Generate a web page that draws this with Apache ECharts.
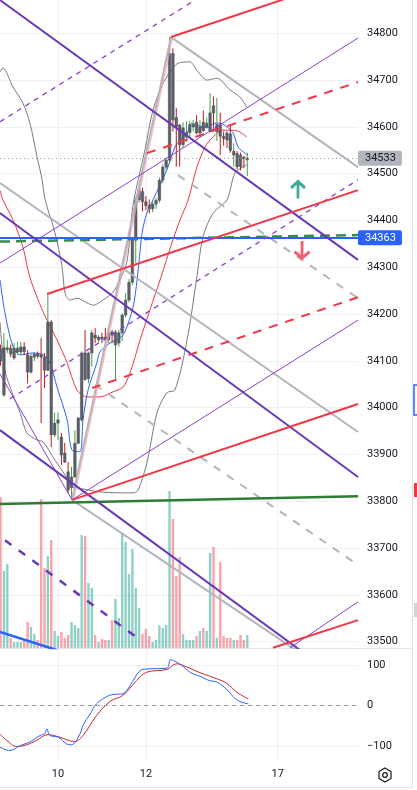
<!DOCTYPE html>
<html><head><meta charset="utf-8">
<script src="https://cdn.jsdelivr.net/npm/echarts@6/dist/echarts.min.js"></script>
<style>html,body{margin:0;padding:0;background:#fff;}#c{width:417px;height:790px;}</style>
</head><body><div id="c"></div>
<script>
// ---------- DATA ----------
// 30-minute bars, index 0 = first visible bar
const dayLabels = ['10', '12', '17'];
const dayLabelBars = [17, 43, 82];
const priceTicks = [33500,33600,33700,33800,33900,34000,34100,34200,34300,34400,34500,34600,34700,34800];
const oscTicks = [-100, 0, 100];
// [open, high, low, close]
const ohlc = [
 [34125,34135,34090,34100],[34027,34160,34023,34128],[34124,34145,34117,34128],[34127,34135,34108,34115],
 [34106,34138,34102,34127],[34119,34140,34113,34127],[34119,34140,34113,34130],[34130,34140,34113,34120],
 [34113,34123,34052,34076],[34076,34115,34073,34110],[34108,34118,34100,34115],[34115,34120,34105,34110],
 [34113,34149,33967,34108],[34108,34117,34042,34080],[34080,34245,34078,34183],[34183,34187,33916,33942],
 [33942,33989,33937,33967],[33967,33989,33931,33974],[33937,33946,33878,33899],[33903,33925,33882,33884],
 [33863,33884,33818,33824],[33829,33874,33803,33852],[33852,33952,33850,33924],[33924,33980,33922,33978],
 [33974,34120,33970,34117],[34117,34166,34058,34060],[34062,34120,34052,34117],[34117,34166,34088,34160],
 [34155,34170,34138,34149],[34145,34155,34140,34151],[34151,34160,34138,34147],[34151,34170,34140,34145],
 [34145,34166,34138,34160],[34162,34166,34138,34155],[34134,34166,34060,34162],[34138,34166,34130,34160],
 [34160,34202,34142,34198],[34198,34245,34193,34230],[34230,34275,34225,34268],[34268,34365,34262,34358],
 [34358,34450,34310,34444],[34444,34470,34438,34465],[34462,34470,34420,34440],[34440,34452,34422,34432],
 [34432,34445,34415,34425],[34425,34442,34418,34435],[34435,34448,34425,34443],[34443,34492,34438,34486],
 [34486,34520,34480,34514],[34514,34535,34505,34529],[34529,34792,34520,34757],[34757,34768,34590,34615],
 [34620,34640,34515,34600],[34604,34606,34515,34562],[34562,34610,34555,34598],[34578,34612,34568,34588],
 [34588,34613,34578,34605],[34600,34615,34590,34605],[34610,34625,34585,34587],[34587,34615,34578,34600],
 [34610,34635,34590,34592],[34600,34620,34598,34608],[34590,34672,34588,34630],[34645,34665,34590,34630],
 [34590,34662,34570,34605],[34605,34630,34540,34580],[34580,34590,34560,34575],[34587,34590,34555,34572],
 [34585,34602,34545,34550],[34540,34565,34515,34548],[34543,34548,34510,34515],[34540,34545,34507,34515],
 [34535,34538,34512,34532],[34530,34545,34495,34533]
];
const volumes = [151,77,84,10,6,6,6,8,26,21,14,8,149,80,92,108,17,12,16,10,13,26,23,20,113,112,65,60,13,6,9,8,8,28,49,30,
 115,106,74,99,60,40,14,19,12,6,8,23,20,23,157,129,72,91,14,8,8,8,12,17,20,17,95,101,10,86,12,10,10,8,8,13,8,13];
// moving averages / bands : [bar, price]
const maBlue = [[-0.16,34273],[1.3,34203],[3.7,34130],[5.8,34113],[9.6,34117],[12.6,34113],[14.6,34096],[16.7,34044],[19.7,33974],[21.1,33910],[23.5,33906],[24.4,33974],[25.9,34038],[28.5,34096],[29.4,34119],[32.4,34138],[35.3,34149],[36.8,34162],[39.2,34215],[40.4,34273],[41.9,34374],[43.3,34416],[45.1,34444],[49.2,34508],[51.6,34557],[53.1,34572],[55.2,34587],[56.6,34608],[58.1,34604],[61.1,34598],[63.4,34608],[64.9,34608],[67,34600],[68.8,34587],[70.3,34557],[72.3,34544],[73.2,34540]];
const maRed = [[-0.16,34465],[0.7,34444],[3.7,34401],[6.6,34344],[8.7,34278],[12.6,34205],[16.7,34145],[19.7,34096],[22.6,34038],[25.6,34023],[29.4,34023],[33.3,34034],[36.2,34044],[38.3,34074],[41.3,34145],[44.2,34209],[47.2,34273],[50.7,34352],[53.1,34401],[55.5,34444],[58.1,34514],[60.5,34557],[62.9,34579],[65.8,34593],[68.8,34593],[70.8,34589],[72.9,34578]];
const bbUpper = [[-0.16,34717],[0.7,34726],[3.7,34685],[6.6,34651],[8.7,34608],[10.8,34536],[12.3,34487],[13.2,34444],[16.1,34374],[18.2,34301],[19.1,34245],[20.5,34230],[22.6,34234],[25.6,34224],[27.4,34219],[30.3,34230],[33.3,34247],[35.3,34273],[37.4,34312],[39.2,34433],[42.7,34550],[45.1,34636],[47.8,34689],[50.1,34717],[52.5,34736],[56,34739],[58.1,34721],[61.1,34700],[64,34704],[67.9,34679],[70.8,34664],[72.9,34642]];
const bbLower = [[-0.16,34183],[1.3,34080],[3.7,34027],[5.8,33989],[7.8,33946],[10.8,33931],[12.6,33927],[16.1,33888],[19.1,33856],[21.1,33831],[22.6,33829],[29.4,33820],[39.2,33818],[40.7,33824],[43.3,33882],[46.3,33989],[49.2,34032],[51.6,34038],[55.2,34145],[58.1,34280],[59.9,34365],[62.9,34416],[67,34444],[69.4,34502],[72.9,34519]];
// oscillator : [bar, value]
const oscBlue = [[-0.16,-103],[2.8,-111],[5.8,-99],[8.7,-90],[11.7,-74],[13.1,-69],[13.7,-58],[14.6,-74],[17,-78],[20.5,-97],[21.4,-96],[23.5,-70],[24.4,-49],[26.5,-21],[28.4,4],[31.4,22],[33.3,27],[36.2,29],[38.3,49],[41.3,86],[43.2,90],[49.2,92],[50.3,113],[51.6,109],[53.6,99],[56.1,82],[59,72],[62,61],[64,58],[66.9,40],[69.9,14],[73.3,4]];
const oscRed = [[-0.16,-70],[1.8,-86],[4.8,-101],[7.7,-97],[10.7,-86],[14,-72],[17,-77],[22,-89],[24.4,-74],[28.4,-25],[32.4,10],[36.2,25],[40.3,62],[43.2,82],[49.2,89],[52.1,103],[55.1,95],[59,81],[64,66],[66.9,55],[69.9,33],[73.3,16]];
// drawings : [[bar, price], [bar, price]]
const purpleThick = [[[-0.16,34871],[105.76,34316]], [[-0.16,34416],[105.76,33852]], [[-0.16,33952],[88.6,33482]]];
const purpleThickDashed = [[[1.32,33717],[41.26,33504]]];
const purpleThin = [[[-0.16,34309],[105.76,34790]], [[21.14,33803],[105.76,34187]], [[85.64,33487],[105.76,33585]], [[-0.16,34072],[21.14,33803]]];
const purpleThinDashed = [[[-0.16,34611],[57.53,34871]], [[2.8,34019],[105.76,34487]]];
const redThick = [[[50.43,34792],[84.75,34875]], [[13.75,34243],[105.76,34465]], [[21.14,33803],[105.76,34008]], [[80.6,33487],[105.76,33546]]];
const redDashed = [[[43.33,34544],[105.76,34696]], [[27.06,34042],[105.76,34236]]];
const grayThick = [[[50.43,34792],[105.76,34514]], [[-0.16,34480],[105.76,33948]], [[21.14,33803],[87.4,33482]], [[21.14,33803],[50.43,34792]]];
const pinkThick = [[[21.6,33803],[50.9,34792]]];
const grayDashed = [[[52.5,34497],[105.76,34234]], [[27.95,34049],[105.76,33664]]];
const greenSolid = [[[-0.16,33794],[105.76,33811]]];
const greenDashed = [[[-0.16,34355],[105.76,34369]]];
const blueThick = [[[-0.16,33521],[17.5,33480]]];
const lastPrice = 34533;
const alertPrice = 34363;
const upArrow = [[88, 34465]];
const downArrow = [[89.2, 34338]];

// ---------- CHART ----------
const X_MIN = -0.16, X_MAX = 105.76;
const FONT = 'Roboto, "Liberation Sans", sans-serif';
const GRID = '#eef0f4';
const chart = echarts.init(document.getElementById('c'), null, {renderer: 'canvas'});

function segSeries(list, style, z) {
  return list.map(pts => ({
    type: 'line', xAxisIndex: 0, yAxisIndex: 0, data: pts, symbol: 'none',
    silent: true, clip: true, z: z, animation: false, lineStyle: style
  }));
}

const series = [];
// volume
series.push({
  type: 'bar', xAxisIndex: 1, yAxisIndex: 1, barWidth: 2.4, z: 1, silent: true, animation: false,
  data: volumes.map((v, i) => ({
    value: [i, v],
    itemStyle: {color: ohlc[i][3] >= ohlc[i][0] ? 'rgba(8,153,129,0.45)' : 'rgba(242,54,69,0.45)'}
  }))
});
// bands & MAs
const thin = () => ({type:'line', xAxisIndex:0, yAxisIndex:0, symbol:'none', smooth:0.3, silent:true, animation:false, z:2});
series.push(Object.assign(thin(), {data: bbUpper, lineStyle: {color: '#787b86', width: 1}}));
series.push(Object.assign(thin(), {data: bbLower, lineStyle: {color: '#787b86', width: 1}}));
series.push(Object.assign(thin(), {data: maRed, lineStyle: {color: '#f23645', width: 1}}));
series.push(Object.assign(thin(), {data: maBlue, lineStyle: {color: '#2962ff', width: 1}}));
// candles
series.push({
  type: 'custom', xAxisIndex: 0, yAxisIndex: 0, z: 3, silent: true, animation: false,
  data: ohlc.map((d, i) => [i, d[0], d[1], d[2], d[3]]),
  encode: {x: 0, y: [1, 2, 3, 4]},
  renderItem: function (params, api) {
    const k = api.value(0), o = api.value(1), h = api.value(2), l = api.value(3), c = api.value(4);
    const up = c >= o;
    const t = api.coord([k, Math.max(o, c)]), b = api.coord([k, Math.min(o, c)]);
    const hi = api.coord([k, h]), lo = api.coord([k, l]);
    const w = 2.6;
    return {type: 'group', children: [
      {type: 'line', shape: {x1: hi[0], y1: hi[1], x2: lo[0], y2: lo[1]}, style: {stroke: up ? '#43a047' : '#b71c1c', lineWidth: 1}},
      {type: 'rect', shape: {x: t[0] - w / 2, y: t[1], width: w, height: Math.max(1, b[1] - t[1])}, style: {fill: '#5d606b', stroke: '#3a3d45', lineWidth: 0.4}}
    ]};
  }
});
// drawings
series.push(...segSeries(grayThick, {color: '#b2b5be', width: 2}, 4));
series.push(...segSeries(pinkThick, {color: 'rgba(242,160,170,0.7)', width: 1.5}, 4));
series.push(...segSeries(grayDashed, {color: '#b2b5be', width: 2, type: [8, 8]}, 4));
series.push(...segSeries(greenSolid, {color: '#2e7d32', width: 2.5}, 4));
series.push(...segSeries(greenDashed, {color: '#388e3c', width: 2.5, type: [10, 6]}, 4));
series.push(...segSeries(blueThick, {color: '#2962ff', width: 2.5}, 4));
series.push(...segSeries(purpleThin, {color: '#8e3fc9', width: 1}, 5));
series.push(...segSeries(purpleThinDashed, {color: '#8e3fc9', width: 1.3, type: [5, 5]}, 5));
series.push(...segSeries(purpleThick, {color: '#673ab7', width: 2}, 5));
series.push(...segSeries(purpleThickDashed, {color: '#673ab7', width: 2.5, type: [8, 9]}, 5));
series.push(...segSeries(redThick, {color: '#f23645', width: 2}, 5));
series.push(...segSeries(redDashed, {color: '#f23645', width: 2, type: [9, 8]}, 5));
// price markers
series.push({
  type: 'line', xAxisIndex: 0, yAxisIndex: 0, data: [], silent: true, animation: false, z: 6,
  markLine: {
    symbol: 'none', silent: true, animation: false,
    data: [
      {yAxis: lastPrice, lineStyle: {color: '#9598a1', type: [1, 3], width: 1},
       label: {show: true, position: 'end', distance: 0, formatter: String(lastPrice), color: '#131722',
               backgroundColor: '#b2b5be', padding: [2, 6, 2, 7], fontSize: 11, fontFamily: FONT, borderRadius: 2}},
      {yAxis: alertPrice, lineStyle: {color: '#2962ff', type: 'solid', width: 2},
       label: {show: true, position: 'end', distance: 0, formatter: String(alertPrice), color: '#ffffff',
               backgroundColor: '#2962ff', padding: [2, 6, 2, 7], fontSize: 11, fontFamily: FONT, borderRadius: 2}}
    ]
  }
});
// arrows
series.push({
  type: 'scatter', xAxisIndex: 0, yAxisIndex: 0, data: upArrow, z: 6, silent: true, animation: false,
  symbol: 'path://M8,0 L8,19 M1,7 L8,0 L15,7', symbolSize: [14, 17],
  itemStyle: {color: 'rgba(0,0,0,0)', borderColor: '#089981', borderWidth: 3}
});
series.push({
  type: 'scatter', xAxisIndex: 0, yAxisIndex: 0, data: downArrow, z: 6, silent: true, animation: false,
  symbol: 'path://M8,0 L8,19 M1,12 L8,19 L15,12', symbolSize: [15, 17],
  itemStyle: {color: 'rgba(0,0,0,0)', borderColor: '#f23645', borderWidth: 3}
});
// oscillator
series.push({type: 'line', xAxisIndex: 2, yAxisIndex: 2, data: oscRed, symbol: 'none', smooth: 0.4, silent: true, animation: false,
  lineStyle: {color: '#c62828', width: 1},
  markLine: {symbol: 'none', silent: true, animation: false, label: {show: false},
    data: [{yAxis: 0}], lineStyle: {color: '#9598a1', type: [4, 4], width: 1}}});
series.push({type: 'line', xAxisIndex: 2, yAxisIndex: 2, data: oscBlue, symbol: 'none', smooth: 0.4, silent: true, animation: false,
  lineStyle: {color: '#2962ff', width: 1}});

const labelStyle = {color: '#131722', fontSize: 11, fontFamily: FONT};
const option = {
  animation: false,
  backgroundColor: '#ffffff',
  grid: [
    {left: 0, top: 0, width: 358, height: 648},
    {left: 0, top: 448, width: 358, height: 200},
    {left: 0, top: 650, width: 358, height: 110}
  ],
  xAxis: [
    {type: 'value', gridIndex: 0, min: X_MIN, max: X_MAX, axisLine: {show: false},
     axisTick: {show: false, customValues: dayLabelBars}, axisLabel: {show: false},
     splitLine: {show: true, lineStyle: {color: GRID, width: 1}}},
    {type: 'value', gridIndex: 1, min: X_MIN, max: X_MAX, show: false},
    {type: 'value', gridIndex: 2, min: X_MIN, max: X_MAX, axisLine: {show: false},
     axisTick: {show: false, customValues: dayLabelBars},
     axisLabel: Object.assign({customValues: dayLabelBars, margin: 9, formatter: v => dayLabels[dayLabelBars.indexOf(v)] || ''}, labelStyle),
     splitLine: {show: true, lineStyle: {color: GRID, width: 1}}}
  ],
  yAxis: [
    {type: 'value', gridIndex: 0, position: 'right', min: 33486.5, max: 34871.2, axisLine: {show: false},
     axisTick: {show: false, customValues: priceTicks},
     axisLabel: Object.assign({customValues: priceTicks, margin: 9, formatter: v => String(v)}, labelStyle),
     splitLine: {show: true, lineStyle: {color: GRID, width: 1}}},
    {type: 'value', gridIndex: 1, min: 0, max: 200, show: false},
    {type: 'value', gridIndex: 2, position: 'right', min: -134.6, max: 137, axisLine: {show: false},
     axisTick: {show: false, customValues: oscTicks},
     axisLabel: Object.assign({customValues: oscTicks, margin: 9, formatter: v => String(v).replace('-', '\u2212')}, labelStyle),
     splitLine: {show: true, lineStyle: {color: GRID, width: 1}}}
  ],
  graphic: [
    {type: 'line', shape: {x1: 0, y1: 648.5, x2: 413, y2: 648.5}, style: {stroke: '#e0e3eb', lineWidth: 1}, silent: true},
    {type: 'line', shape: {x1: 412.5, y1: 0, x2: 412.5, y2: 787}, style: {stroke: '#e0e3eb', lineWidth: 1}, silent: true},
    {type: 'line', shape: {x1: 0, y1: 787.5, x2: 413, y2: 787.5}, style: {stroke: '#e0e3eb', lineWidth: 1}, silent: true},
    {type: 'rect', shape: {x: 414, y: 385, width: 4, height: 30}, style: {fill: '#ffffff', stroke: '#2962ff', lineWidth: 1.5}, silent: true},
    {type: 'rect', shape: {x: 414, y: 483, width: 4, height: 14}, style: {fill: '#f23645'}, silent: true},
    {type: 'rect', shape: {x: 414, y: 603, width: 4, height: 14}, style: {fill: '#d1d4dc'}, silent: true},
    {type: 'polygon', shape: {points: [[385,768],[391,771.5],[391,778.5],[385,782],[379,778.5],[379,771.5]]},
     style: {fill: 'none', stroke: '#131722', lineWidth: 1.2}, silent: true},
    {type: 'circle', shape: {cx: 385, cy: 775, r: 2.3}, style: {fill: 'none', stroke: '#131722', lineWidth: 1.2}, silent: true}
  ],
  series: series
};
chart.setOption(option);
</script>
</body></html>
